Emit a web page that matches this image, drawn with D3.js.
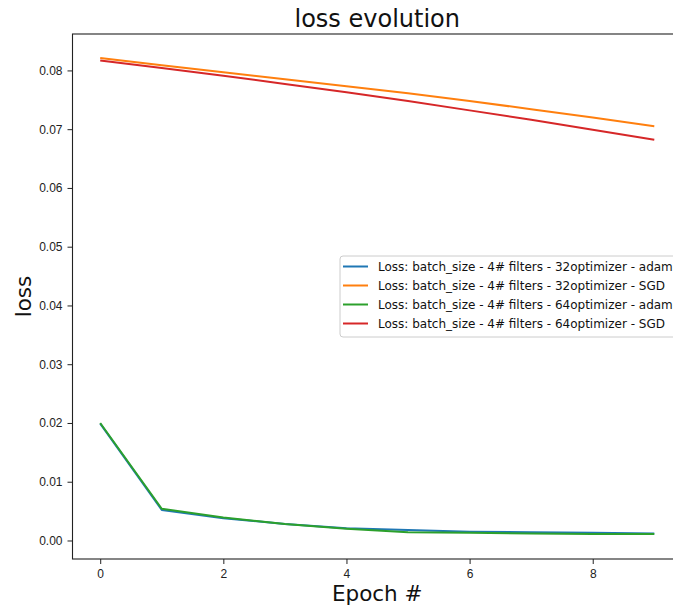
<!DOCTYPE html>
<html lang="en">
<head>
  <meta charset="UTF-8">
  <title>loss evolution</title>
  <script src="https://d3js.org/d3.v7.min.js"></script>
  <style>
    body { margin: 0; background: white; }
    svg { font-family: "DejaVu Sans", sans-serif; display: block; }
    .axis path, .axis line { stroke: #222; }
    .axis text { fill: #222; font-size: 12px; }
  </style>
</head>
<body>
  <svg id="chart" width="673" height="606"></svg>

  <script>
    // data
    const epochs = [0, 1, 2, 3, 4, 5, 6, 7, 8, 9];
    const lossAdam32 = [0.0199, 0.0052, 0.0038, 0.0028, 0.0021, 0.0018, 0.0015, 0.0014, 0.0013, 0.0012];
    const lossSgd32 = [0.0821, 0.0809, 0.0797, 0.0785, 0.0773, 0.0761, 0.0748, 0.0734, 0.0720, 0.0705];
    const lossAdam64 = [0.0200, 0.0054, 0.0039, 0.0028, 0.0020, 0.0014, 0.0013, 0.0012, 0.0011, 0.0011];
    const lossSgd64 = [0.0817, 0.0804, 0.0791, 0.0777, 0.0763, 0.0748, 0.0732, 0.0716, 0.0699, 0.0682];
    const labels = [
      "Loss: batch_size - 4# filters - 32optimizer - adam",
      "Loss: batch_size - 4# filters - 32optimizer - SGD",
      "Loss: batch_size - 4# filters - 64optimizer - adam",
      "Loss: batch_size - 4# filters - 64optimizer - SGD"
    ];
    const colors = ["#1f77b4", "#ff7f0e", "#2ca02c", "#d62728"];
    const xTicks = [0, 2, 4, 6, 8];
    const yTicks = [0, 0.01, 0.02, 0.03, 0.04, 0.05, 0.06, 0.07, 0.08];

    const series = [lossAdam32, lossSgd32, lossAdam64, lossSgd64];

    const svg = d3.select("#chart");
    // plot area (right edge sits past the window, like the original crop)
    const plotLeft = 72.5, plotRight = 682, plotTop = 34, plotBottom = 559;

    const x = d3.scaleLinear().domain([-0.45, 9.45]).range([plotLeft, plotRight]);
    const y = d3.scaleLinear().domain([-0.00315, 0.0862]).range([plotBottom, plotTop]);

    const line = d3.line()
      .x((d, i) => x(epochs[i]))
      .y(d => y(d));

    series.forEach((s, i) => {
      svg.append("path")
        .datum(s)
        .attr("fill", "none")
        .attr("stroke", colors[i])
        .attr("stroke-width", 2)
        .attr("stroke-linejoin", "round")
        .attr("d", line);
    });

    // axes
    svg.append("g")
      .attr("class", "axis")
      .attr("transform", "translate(0," + plotBottom + ")")
      .call(d3.axisBottom(x).tickValues(xTicks).tickFormat(d3.format("d")).tickSizeOuter(0).tickSize(5).tickPadding(5))
      .call(g => g.select(".domain").remove());

    svg.append("g")
      .attr("class", "axis")
      .attr("transform", "translate(" + plotLeft + ",0)")
      .call(d3.axisLeft(y).tickValues(yTicks).tickFormat(d3.format(".2f")).tickSizeOuter(0).tickSize(5).tickPadding(5))
      .call(g => g.select(".domain").remove());

    // frame
    svg.append("rect")
      .attr("x", plotLeft).attr("y", plotTop)
      .attr("width", plotRight - plotLeft).attr("height", plotBottom - plotTop)
      .attr("fill", "none")
      .attr("stroke", "#222")
      .attr("stroke-width", 1.1);

    // titles
    svg.append("text")
      .attr("x", (plotLeft + plotRight) / 2).attr("y", 27)
      .attr("text-anchor", "middle")
      .attr("font-size", "24px")
      .attr("fill", "#111")
      .text("loss evolution");

    svg.append("text")
      .attr("x", (plotLeft + plotRight) / 2).attr("y", 601)
      .attr("text-anchor", "middle")
      .attr("font-size", "21.5px")
      .attr("fill", "#111")
      .text("Epoch #");

    svg.append("text")
      .attr("transform", "translate(31," + ((plotTop + plotBottom) / 2) + ") rotate(-90)")
      .attr("text-anchor", "middle")
      .attr("font-size", "21.5px")
      .attr("fill", "#111")
      .text("loss");

    // legend
    const legend = svg.append("g").attr("transform", "translate(340,256)");
    legend.append("rect")
      .attr("width", 345).attr("height", 81)
      .attr("rx", 3)
      .attr("fill", "white")
      .attr("fill-opacity", 0.8)
      .attr("stroke", "#ccc");

    labels.forEach((t, i) => {
      const row = legend.append("g").attr("transform", "translate(0," + (10.5 + i * 19) + ")");
      row.append("line")
        .attr("x1", 3).attr("x2", 28)
        .attr("stroke", colors[i])
        .attr("stroke-width", 2);
      row.append("text")
        .attr("x", 38).attr("dy", "0.35em")
        .attr("font-size", "12px")
        .attr("fill", "#111")
        .text(t);
    });
  </script>
</body>
</html>
